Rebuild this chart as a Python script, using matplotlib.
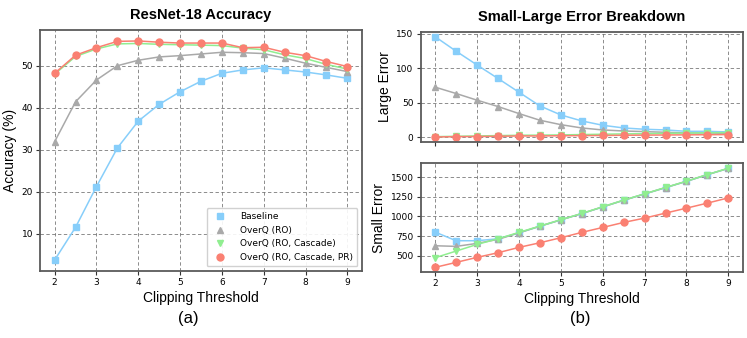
import matplotlib
matplotlib.use("Agg")
import matplotlib.pyplot as plt
from matplotlib.lines import Line2D

thresholds = [2, 2.5, 3, 3.5, 4, 4.5, 5, 5.5, 6, 6.5, 7, 7.5, 8, 8.5, 9]

acc_baseline = [3.7, 11.5, 21.2, 30.4, 36.8, 40.8, 43.8, 46.3, 48.2, 49.0, 49.5, 49.0, 48.5, 47.8, 47.0]
acc_ro = [31.9, 41.4, 46.6, 50.0, 51.3, 52.1, 52.4, 52.8, 53.2, 53.1, 52.9, 51.8, 50.6, 49.6, 48.6]
acc_cascade = [48.0, 52.2, 54.0, 55.2, 55.3, 55.1, 55.0, 54.9, 54.8, 54.2, 53.8, 52.6, 51.7, 50.3, 49.2]
acc_pr = [48.2, 52.5, 54.3, 55.8, 55.9, 55.6, 55.4, 55.4, 55.4, 54.3, 54.4, 53.2, 52.4, 51.0, 49.8]

large_baseline = [146, 125, 105, 85.4, 65.5, 45.6, 32.5, 23.8, 17.5, 13.6, 11.7, 10.7, 8.7, 8.7, 7.8]
large_ro = [72.8, 63.6, 53.9, 44.7, 34.5, 24.8, 18.4, 13.6, 10.7, 9.2, 8.3, 7.3, 6.3, 6.3, 5.8]
large_cascade = [1.0, 1.5, 2.0, 2.5, 3.0, 3.2, 3.5, 4.0, 4.5, 5.0, 5.3, 5.8, 6.2, 6.6, 7.0]
large_pr = [0.5, 1.0, 1.2, 1.5, 2.0, 2.0, 2.3, 2.5, 2.7, 3.0, 3.2, 3.4, 3.6, 3.8, 4.0]

small_baseline = [801, 691, 691, 716, 790, 875, 956, 1036, 1121, 1206, 1286, 1367, 1447, 1532, 1612]
small_ro = [627, 619, 657, 708, 792, 876, 957, 1037, 1122, 1207, 1287, 1368, 1448, 1533, 1613]
small_cascade = [475, 559, 644, 716, 797, 877, 958, 1038, 1123, 1208, 1288, 1369, 1449, 1534, 1614]
small_pr = [352, 415, 479, 538, 606, 665, 729, 797, 860, 924, 979, 1043, 1106, 1170, 1237]

labels = ["Baseline", "OverQ (RO)", "OverQ (RO, Cascade)", "OverQ (RO, Cascade, PR)"]
colors = ["#87CEFA", "#A9A9A9", "#90EE90", "#FA8072"]
markers = ["s", "^", "v", "o"]

W, H = 747, 338
fig = plt.figure(figsize=(W / 100, H / 100), dpi=100)

def px_axes(l, t, r, b):
    return fig.add_axes([l / W, 1 - b / H, (r - l) / W, (b - t) / H])

def style(ax):
    ax.grid(True, linestyle=(0, (3.5, 2.5)), color="#666666", linewidth=0.7, alpha=0.75)
    ax.set_axisbelow(True)
    for s in ax.spines.values():
        s.set_color("#5a5a5a")
        s.set_linewidth(1.3)
    ax.tick_params(labelsize=6.5, length=3, width=0.8, color="#333333", pad=2)
    ax.set_xticks([2, 3, 4, 5, 6, 7, 8, 9])

label_font = dict(family="Liberation Sans", size=10)
title_font = dict(family="Liberation Sans", size=10.5, weight="bold")

# (a)
ax1 = px_axes(40, 30, 362, 271)
series_a = [acc_baseline, acc_ro, acc_cascade, acc_pr]
for ys, c, m in zip(series_a, colors, markers):
    ax1.plot(thresholds, ys, color=c, marker=m, markersize=5, linewidth=1.1)
style(ax1)
ax1.set_xlabel("Clipping Threshold", fontdict=label_font, labelpad=3)
ax1.set_ylabel("Accuracy (%)", fontdict=label_font, labelpad=3)
ax1.set_title("ResNet-18 Accuracy", fontdict=title_font, pad=8)
handles = [Line2D([], [], color=c, marker=m, linestyle="none", markersize=5)
           for c, m in zip(colors, markers)]
ax1.legend(handles, labels, loc="lower right", fontsize=6.5, framealpha=0.9,
           handletextpad=1.2, borderpad=0.5, labelspacing=0.5)

# (b) top
ax2 = px_axes(420.5, 31.7, 743, 142)
series_l = [large_baseline, large_ro, large_cascade, large_pr]
for ys, c, m in zip(series_l, colors, markers):
    ax2.plot(thresholds, ys, color=c, marker=m, markersize=5, linewidth=1.1)
style(ax2)
ax2.set_yticks([0, 50, 100, 150])
ax2.tick_params(labelbottom=False)
ax2.set_ylabel("Large Error", fontdict=label_font, labelpad=3)
ax2.set_title("Small-Large Error Breakdown", fontdict=title_font, pad=8)

# (b) bottom
ax3 = px_axes(420.5, 163.3, 743, 272.3)
series_s = [small_baseline, small_ro, small_cascade, small_pr]
for ys, c, m in zip(series_s, colors, markers):
    ax3.plot(thresholds, ys, color=c, marker=m, markersize=5, linewidth=1.1)
style(ax3)
ax3.set_yticks([500, 750, 1000, 1250, 1500])
ax3.set_xlabel("Clipping Threshold", fontdict=label_font, labelpad=3)
ax3.set_ylabel("Small Error", fontdict=label_font, labelpad=3)

fig.text(188 / W, 1 - 318 / H, "(a)", ha="center", va="center", family="Liberation Sans", size=12)
fig.text(580 / W, 1 - 318 / H, "(b)", ha="center", va="center", family="Liberation Sans", size=12)

fig.savefig("out.png", dpi=100)
